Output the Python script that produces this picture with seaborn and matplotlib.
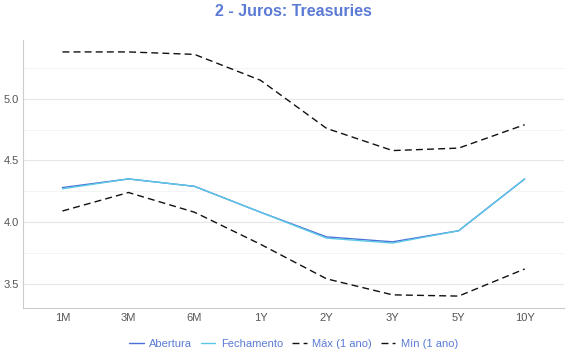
import numpy as np
import pandas as pd
import matplotlib
matplotlib.use("Agg")
import matplotlib.pyplot as plt
import seaborn as sns

vencimentos = ["1M", "3M", "6M", "1Y", "2Y", "3Y", "5Y", "10Y"]
abertura = [4.28, 4.35, 4.29, 4.08, 3.88, 3.84, 3.93, 4.35]
fechamento = [4.27, 4.35, 4.29, 4.08, 3.87, 3.83, 3.93, 4.35]
maximo = [5.38, 5.38, 5.36, 5.15, 4.76, 4.58, 4.60, 4.79]
minimo = [4.09, 4.24, 4.08, 3.82, 3.54, 3.41, 3.40, 3.62]

df = pd.DataFrame({
    "Vencimento": vencimentos,
    "Abertura": abertura,
    "Fechamento": fechamento,
    "Máx (1 ano)": maximo,
    "Mín (1 ano)": minimo,
})
longo = df.melt(id_vars="Vencimento", var_name="Série", value_name="Taxa")

sns.set_style("white")
plt.rcParams["font.family"] = ["Liberation Sans", "DejaVu Sans"]

cores = {
    "Abertura": "#4a6fd8",
    "Fechamento": "#5cc8e6",
    "Máx (1 ano)": "#111111",
    "Mín (1 ano)": "#111111",
}
estilos = {
    "Abertura": "",
    "Fechamento": "",
    "Máx (1 ano)": (5, 3),
    "Mín (1 ano)": (5, 3),
}

fig, ax = plt.subplots(figsize=(5.7, 3.6), dpi=100)
fig.subplots_adjust(left=0.04, right=0.99, top=0.89, bottom=0.145)

sns.lineplot(data=longo, x="Vencimento", y="Taxa", hue="Série", style="Série",
             palette=cores, dashes=estilos, linewidth=1.0, ax=ax, sort=False)

ax.set_xlim(-0.6, 7.6)
ax.set_ylim(3.305, 5.48)
ax.set_yticks([3.5, 4.0, 4.5, 5.0])
ax.set_yticks(np.arange(3.5, 5.5, 0.25), minor=True)
ax.grid(axis="y", which="major", color="#e6e6e6", linewidth=0.8)
ax.grid(axis="y", which="minor", color="#f2f2f2", linewidth=0.6)
ax.set_axisbelow(True)
ax.set_xlabel("")
ax.set_ylabel("")
ax.tick_params(axis="both", which="both", length=0, labelsize=8, colors="#555555")
ax.tick_params(axis="x", pad=4)
ax.tick_params(axis="y", pad=3)
for lado in ["top", "right"]:
    ax.spines[lado].set_visible(False)
ax.spines["left"].set_color("#cccccc")
ax.spines["bottom"].set_color("#cccccc")

ax.set_title("2 - Juros: Treasuries", color="#5b7bd5", fontsize=11.5,
             fontweight="bold", pad=17)

leg = ax.legend(loc="upper center", bbox_to_anchor=(0.5, -0.08), ncol=4,
                frameon=False, fontsize=8, handlelength=1.3, handletextpad=0.5,
                columnspacing=0.8)
for texto in leg.get_texts():
    texto.set_color("#5b7bd5")

fig.savefig("out.png", dpi=100)
